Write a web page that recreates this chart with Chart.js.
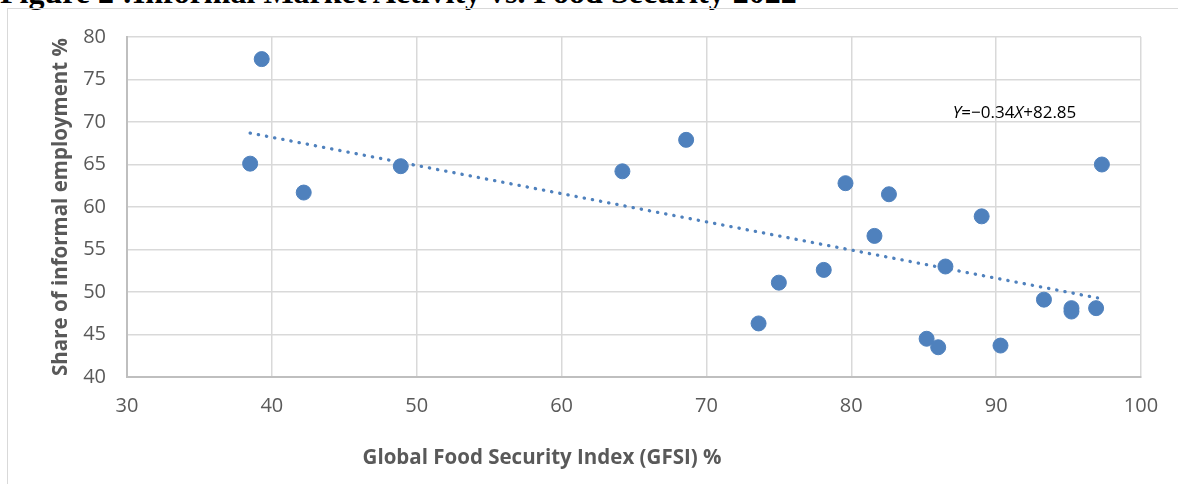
<!DOCTYPE html>
<html>
<head>
<meta charset="utf-8">
<script src="https://cdn.jsdelivr.net/npm/chart.js@4.4.1/dist/chart.umd.min.js"></script>
<style>
  html, body { margin: 0; padding: 0; background: #fff; overflow: hidden; }
  #wrap { position: relative; width: 1178px; height: 484px; }
  #title { position: absolute; left: 0px; top: -24px; font: bold 32px "Liberation Serif", "Times New Roman", serif; line-height: 32px; color: #000; white-space: nowrap; }
  #frame { position: absolute; left: 7px; top: 8px; width: 1171px; height: 476px; border-left: 1.5px solid #d9d9d9; border-top: 1.5px solid #d9d9d9; box-sizing: border-box; }
  canvas { position: absolute; left: 0; top: 0; }
</style>
</head>
<body>
<div id="wrap">
  <div id="title">Figure 2 :Informal Market Activity vs. Food Security 2022</div>
  <div id="frame"></div>
  <canvas id="c" width="1178" height="484"></canvas>
</div>
<script>
// GFSI (%) per country
const gfsi = [38.5, 39.3, 42.2, 48.9, 64.2, 68.6, 73.6, 75.0, 78.1, 79.6, 81.6, 82.6, 85.2, 86.0, 86.5, 89.0, 90.3, 93.3, 95.2, 95.2, 96.9, 97.3];
// Share of informal employment (%)
const informal = [65.1, 77.4, 61.7, 64.8, 64.2, 67.9, 46.3, 51.1, 52.6, 62.8, 56.6, 61.5, 44.5, 43.5, 53.0, 58.9, 43.7, 49.1, 48.1, 47.7, 48.1, 65.0];
// Linear trendline as drawn (start / end)
const trendX = [38.5, 97.0];
const trendY = [68.7, 49.3];
const equationText = ["Y", "=\u22120.34", "X", "+82.85"];
const equationAt = { x: 87.0, y: 71.05 };
const xTicks = [30, 40, 50, 60, 70, 80, 90, 100];
const yTicks = [40, 45, 50, 55, 60, 65, 70, 75, 80];
const xTitle = "Global Food Security Index (GFSI) %";
const yTitle = "Share of informal employment %";

const scatterPts = gfsi.map((x, i) => ({ x: x, y: informal[i] }));
const trendPts = trendX.map((x, i) => ({ x: x, y: trendY[i] }));

const overlay = {
  id: 'overlay',
  afterDraw(chart) {
    const ctx = chart.ctx;
    const xs = chart.scales.x, ys = chart.scales.y;
    ctx.save();
    // equation label
    let px = xs.getPixelForValue(equationAt.x);
    const py = ys.getPixelForValue(equationAt.y);
    ctx.textBaseline = 'middle';
    ctx.fillStyle = '#000';
    equationText.forEach((t, i) => {
      ctx.font = (i % 2 === 0 ? 'italic ' : '') + '17px "Open Sans", sans-serif';
      ctx.fillText(t, px, py);
      px += ctx.measureText(t).width;
    });
    // x-axis title
    ctx.font = 'bold 20.5px "Open Sans", sans-serif';
    ctx.fillStyle = '#595959';
    ctx.textAlign = 'center';
    ctx.fillText(xTitle, 542, 458);
    ctx.restore();
  }
};

new Chart(document.getElementById('c'), {
  type: 'scatter',
  data: {
    datasets: [
      {
        label: 'Countries',
        data: scatterPts,
        backgroundColor: '#4F81BD',
        borderColor: '#4F81BD',
        pointRadius: 7.5,
        pointHoverRadius: 7.5,
        order: 1
      },
      {
        type: 'line',
        label: 'Trend',
        data: trendPts,
        borderColor: '#4F81BD',
        borderWidth: 3.3,
        borderDash: [0.3, 8],
        borderCapStyle: 'round',
        pointRadius: 0,
        fill: false,
        order: 2
      }
    ]
  },
  options: {
    responsive: false,
    animation: false,
    devicePixelRatio: 1,
    layout: { padding: { left: 0, top: 37, right: 37, bottom: 0 } },
    plugins: { legend: { display: false }, tooltip: { enabled: false } },
    scales: {
      x: {
        type: 'linear',
        min: 30, max: 100,
        afterBuildTicks: s => { s.ticks = xTicks.map(v => ({ value: v })); },
        afterFit: s => { s.height = 107; },
        grid: { color: '#d9d9d9', lineWidth: 1.5, drawTicks: false },
        border: { color: '#bfbfbf', width: 2 },
        ticks: { color: '#595959', font: { family: '"Open Sans", sans-serif', size: 20 }, padding: 17, maxRotation: 0 }
      },
      y: {
        type: 'linear',
        min: 40, max: 80,
        afterBuildTicks: s => { s.ticks = yTicks.map(v => ({ value: v })); },
        afterFit: s => { s.width = 127; },
        grid: { color: '#d9d9d9', lineWidth: 1.5, drawTicks: false },
        border: { color: '#bfbfbf', width: 2 },
        ticks: { color: '#595959', font: { family: '"Open Sans", sans-serif', size: 20 }, padding: 21 },
        title: {
          display: true,
          text: yTitle,
          color: '#595959',
          font: { family: '"Open Sans", sans-serif', size: 20.5, weight: 'bold' },
          padding: { top: 49, bottom: 0 }
        }
      }
    }
  },
  plugins: [overlay]
});
</script>
</body>
</html>
